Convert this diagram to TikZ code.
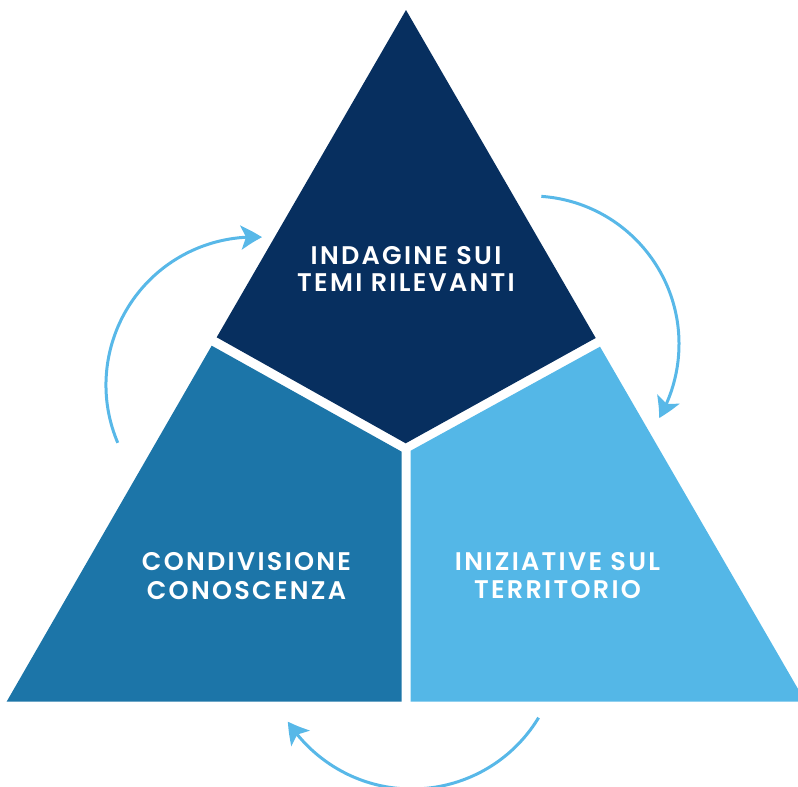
\documentclass[tikz,border=0pt]{standalone}
\usepackage{fontspec}
\newfontfamily\labfont[LetterSpace=9]{Poppins SemiBold}
\usetikzlibrary{arrows.meta,bending}
\definecolor{navy}{RGB}{7,47,95}
\definecolor{midblue}{RGB}{28,117,168}
\definecolor{lightblue}{RGB}{84,183,231}
\definecolor{arrowblue}{RGB}{88,184,232}
\begin{document}
\begin{tikzpicture}[x=1pt,y=-1pt,
  lab/.style={text=white, font=\labfont\fontsize{25.5}{28}\selectfont, anchor=base, inner sep=0pt},
  cyc/.style={draw=arrowblue, line width=3pt, -{Stealth[length=21pt,width=24pt,inset=5pt,bend]}}]
\useasboundingbox (0,0) rectangle (798,787);
\clip (0,0) rectangle (798,787);
% top region
\coordinate (A) at (406,10);
\coordinate (TL) at (216.7,337.3);
\coordinate (TB) at (405.7,443.3);
\coordinate (TR) at (595.7,338);
% left region
\coordinate (LT) at (211.7,345.7);
\coordinate (LB) at (6.6,701.7);
\coordinate (LR) at (401.7,701.7);
\coordinate (LI) at (401.7,451.7);
% right region
\coordinate (RT) at (600,346.7);
\coordinate (RI) at (410.7,450.7);
\coordinate (RL) at (410.7,701.7);
\coordinate (RB) at (805.4,701.7);
\fill[navy] (A) -- (TL) -- (TB) -- (TR) -- cycle;
\fill[midblue] (LT) -- (LB) -- (LR) -- (LI) -- cycle;
\fill[lightblue] (RT) -- (RI) -- (RL) -- (RB) -- cycle;
% labels
\node[lab] (t1a) at (406,264) {INDAGINE SUI};
\node[lab] (t1b) at (406,291.7) {TEMI RILEVANTI};
\node[lab] (t2a) at (246.5,570) {CONDIVISIONE};
\node[lab] (t2b) at (246.5,599) {CONOSCENZA};
\node[lab] (t3a) at (557.5,570.5) {INIZIATIVE SUL};
\node[lab] (t3b) at (557.5,598.5) {TERRITORIO};
% cycle arrows
\coordinate (c1) at (254,385);
\coordinate (c2) at (531,344);
\coordinate (c3) at (412,641);
\draw[cyc] ([shift={(-203:148)}]c1) arc[start angle=-203,end angle=-86.9,radius=148];
\draw[cyc] ([shift={(-86:148)}]c2) arc[start angle=-86,end angle=30,radius=148];
\draw[cyc] ([shift={(31.2:148)}]c3) arc[start angle=31.2,end angle=147,radius=148];
\end{tikzpicture}
\end{document}
